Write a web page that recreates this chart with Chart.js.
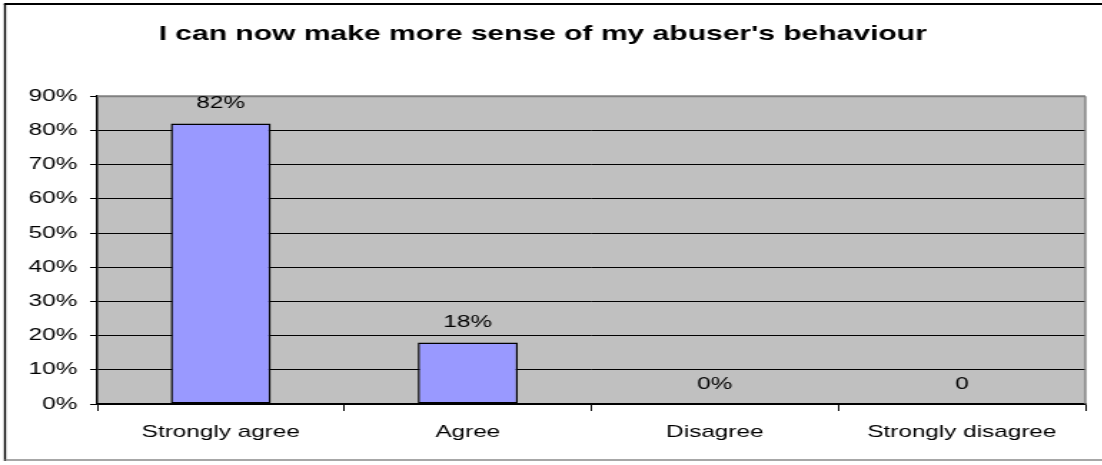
<!DOCTYPE html>
<html>
<head>
<meta charset="utf-8">
<script src="https://cdn.jsdelivr.net/npm/chart.js@4/dist/chart.umd.min.js"></script>
<style>
html,body{margin:0;padding:0;background:#fff;overflow:hidden;}
#wrap{position:relative;width:1102px;height:465px;overflow:hidden;}
#c{position:absolute;left:0;top:0;transform-origin:0 0;transform:scaleX(1.43);}
</style>
</head>
<body>
<div id="wrap"><canvas id="c" width="771" height="465"></canvas></div>
<script>
const titleText = "I can now make more sense of my abuser's behaviour";
const categories = ["Strongly agree", "Agree", "Disagree", "Strongly disagree"];
const values = [82, 18, 0, 0];
const valueLabels = ["82%", "18%", "0%", "0"];
const yTicks = [0, 10, 20, 30, 40, 50, 60, 70, 80, 90];

const FONT = "'Liberation Sans', Arial, sans-serif";
const SX = 1.43; // horizontal stretch of the original rendering

const frame = {
  id: 'frame',
  beforeDraw(chart) {
    const {ctx, chartArea: a} = chart;
    ctx.save();
    ctx.fillStyle = '#fff';
    ctx.fillRect(0, 0, chart.width, chart.height);
    ctx.strokeStyle = '#000';
    ctx.lineWidth = 2 / SX;
    ctx.beginPath();
    ctx.moveTo(5 / SX, 461); ctx.lineTo(5 / SX, 4);
    ctx.stroke();
    ctx.lineWidth = 2;
    ctx.beginPath();
    ctx.moveTo(4 / SX, 4); ctx.lineTo(chart.width, 4);
    ctx.stroke();
    ctx.strokeStyle = '#8a8a8a';
    ctx.lineWidth = 1.5;
    ctx.beginPath();
    ctx.moveTo(5 / SX, 460); ctx.lineTo(chart.width, 460);
    ctx.stroke();
    ctx.fillStyle = '#C0C0C0';
    ctx.fillRect(a.left, a.top, a.right - a.left, a.bottom - a.top);
    ctx.restore();
  },
  afterDatasetsDraw(chart) {
    const {ctx, chartArea: a} = chart;
    ctx.save();
    ctx.strokeStyle = '#808080';
    ctx.lineWidth = 2;
    ctx.beginPath();
    ctx.moveTo(a.left, a.top); ctx.lineTo(a.right, a.top);
    ctx.stroke();
    ctx.lineWidth = 2 / SX;
    ctx.beginPath();
    ctx.moveTo(a.right, a.top); ctx.lineTo(a.right, a.bottom);
    ctx.stroke();
    const meta = chart.getDatasetMeta(0);
    ctx.fillStyle = '#000';
    ctx.font = '17px ' + FONT;
    ctx.textAlign = 'center';
    ctx.textBaseline = 'middle';
    meta.data.forEach((bar, i) => {
      ctx.fillText(valueLabels[i], bar.x, bar.y - 20);
    });
    ctx.restore();
  }
};

new Chart(document.getElementById('c'), {
  type: 'bar',
  data: {
    labels: categories,
    datasets: [{
      data: values,
      backgroundColor: '#9999FF',
      borderColor: '#000',
      borderWidth: 1.5,
      borderSkipped: false,
      categoryPercentage: 0.81,
      barPercentage: 0.5
    }]
  },
  options: {
    responsive: false,
    animation: false,
    devicePixelRatio: 1,
    layout: {padding: {left: 0, right: 12, top: 0, bottom: 0}},
    plugins: {
      legend: {display: false},
      tooltip: {enabled: false},
      title: {
        display: true,
        text: titleText,
        color: '#000',
        font: {family: FONT, size: 21, weight: 'bold'},
        padding: {top: 22, bottom: 49}
      }
    },
    scales: {
      x: {
        afterFit(s) { s.height = 61; },
        grid: {display: true, drawOnChartArea: false, drawTicks: true, tickLength: 7, color: '#000', offset: true},
        border: {display: true, color: '#000', width: 1.5},
        ticks: {color: '#000', font: {family: FONT, size: 17}, padding: 11, maxRotation: 0}
      },
      y: {
        min: 0,
        max: 90,
        afterFit(s) { s.width = 68; },
        afterBuildTicks(s) { s.ticks = yTicks.map(v => ({value: v})); },
        grid: {color: '#000', lineWidth: 1, tickLength: 5, drawTicks: true},
        border: {display: true, color: '#000', width: 1.5},
        ticks: {color: '#000', font: {family: FONT, size: 17}, padding: 9, callback: v => v + '%'}
      }
    }
  },
  plugins: [frame]
});
</script>
</body>
</html>
